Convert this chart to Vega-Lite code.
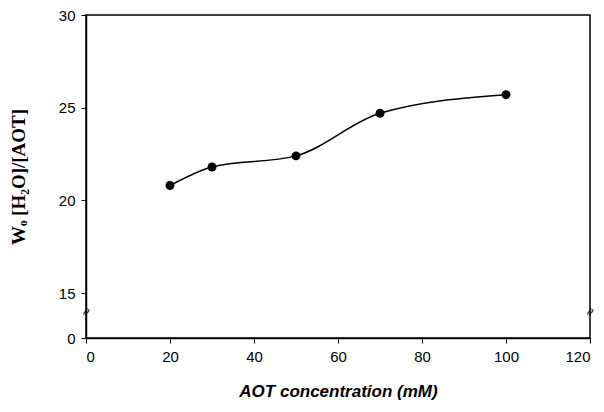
{
  "$schema": "https://vega.github.io/schema/vega-lite/v6.json",
  "autosize": "none",
  "width": 504,
  "height": 323,
  "padding": {"left": 86, "top": 15, "right": 14, "bottom": 74},
  "background": "white",
  "config": {
    "view": {"stroke": "black", "strokeWidth": 1.5},
    "axis": {"grid": false, "domainColor": "black", "domainWidth": 1.5, "tickColor": "black", "tickSize": 5, "labelColor": "black", "labelFont": "Liberation Sans", "labelFontSize": 15, "titleColor": "black"}
  },
  "datasets": {
    "pts": [
      {"conc": 20, "wo": 20.8},
      {"conc": 30, "wo": 21.8},
      {"conc": 50, "wo": 22.4},
      {"conc": 70, "wo": 24.7},
      {"conc": 100, "wo": 25.7}
    ],
    "brk": [
      {"conc": 0, "wo": 8.7, "sym": "≈"},
      {"conc": 120, "wo": 8.7, "sym": "≈"}
    ]
  },
  "layer": [
    {
      "data": {"name": "pts"},
      "mark": {"type": "line", "interpolate": "monotone", "color": "black", "strokeWidth": 1.5},
      "encoding": {
        "x": {"field": "conc", "type": "quantitative",
          "scale": {"domain": [0, 120], "nice": false},
          "axis": {"values": [0, 20, 40, 60, 80, 100, 120], "labelPadding": 6, "title": "AOT concentration (mM)", "titleFont": "Liberation Sans", "titleFontSize": 17, "titleFontWeight": "bold", "titleFontStyle": "italic", "titlePadding": 19}},
        "y": {"field": "wo", "type": "quantitative",
          "scale": {"domain": [0, 15, 30], "range": [323, 278, 0], "nice": false, "zero": false},
          "axis": {"values": [0, 15, 20, 25, 30], "labelPadding": 6, "title": "Wₒ [H₂O]/[AOT]", "titleFont": "Liberation Serif", "titleFontSize": 19, "titleFontWeight": "bold", "titlePadding": 30}}
      }
    },
    {
      "data": {"name": "pts"},
      "mark": {"type": "point", "filled": true, "color": "black", "size": 80, "opacity": 1},
      "encoding": {
        "x": {"field": "conc", "type": "quantitative"},
        "y": {"field": "wo", "type": "quantitative"}
      }
    },
    {
      "data": {"name": "brk"},
      "mark": {"type": "text", "fontSize": 12, "color": "black", "angle": 300, "font": "DejaVu Sans"},
      "encoding": {
        "x": {"field": "conc", "type": "quantitative"},
        "y": {"field": "wo", "type": "quantitative"},
        "text": {"field": "sym"}
      }
    }
  ]
}
